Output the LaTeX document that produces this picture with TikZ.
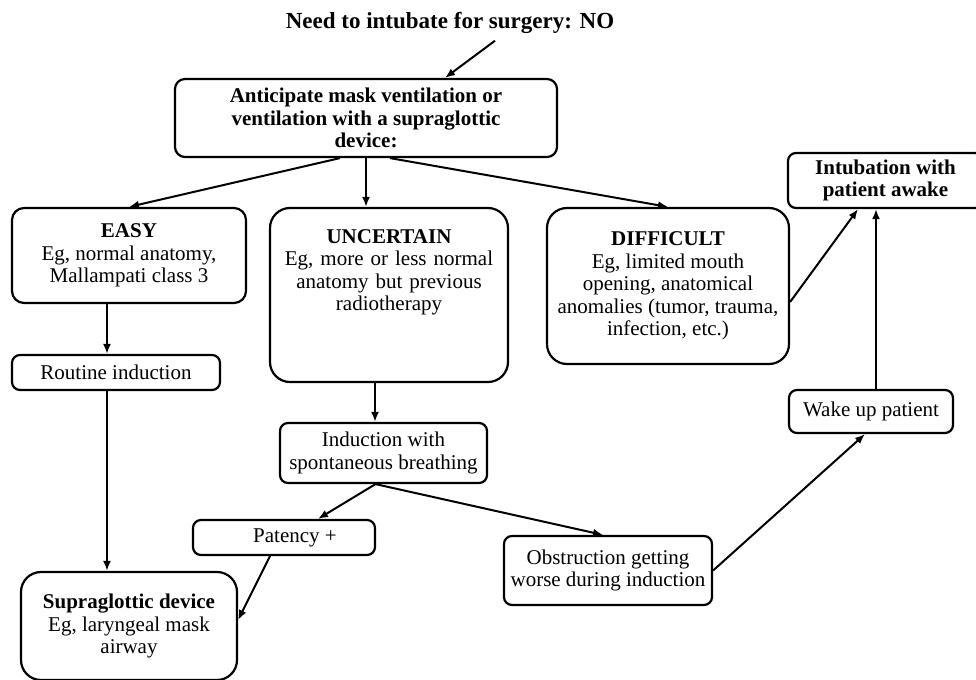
\documentclass[tikz,border=0pt]{standalone}
\usepackage{fontspec}
\setmainfont{Liberation Serif}
\usetikzlibrary{arrows.meta,calc,positioning}
\tikzset{
  box/.style={draw, line width=1.1pt, rounded corners=4pt, align=center, inner sep=0pt,
    font=\fontsize{10.5}{11.3}\selectfont},
  bigbox/.style={box, rounded corners=10pt},
  link/.style={-{Latex[length=5pt,width=4pt]}, line width=1pt},
}

\begin{document}
\begin{tikzpicture}[x=0.5pt,y=-0.5pt]
\clip (0,0) rectangle (976,680);
% top of the chart
\node[font=\fontsize{11.5}{13}\bfseries\selectfont] (need) at (450,23) {Need to intubate for surgery: NO};
\node[box, rounded corners=5pt, minimum width=191pt, minimum height=39pt] (ant) at (366,118)
  {\textbf{Anticipate mask ventilation or}\\\textbf{ventilation with a supraglottic}\\\textbf{device:}};

% the three cases
\node[box, rounded corners=6pt, minimum width=117pt, minimum height=47.5pt] (easy) at (129,255.5)
  {\textbf{EASY}\\Eg, normal anatomy,\\Mallampati class 3};
\node[bigbox, text width=119pt, text height=17.5pt, text depth=69.5pt] (unc) at (389,295)
  {\textbf{UNCERTAIN}\\Eg, more or less normal\\anatomy but previous\\radiotherapy};
\node[bigbox, minimum width=121pt, minimum height=78pt] (diff) at (668,286)
  {\textbf{DIFFICULT}\\Eg, limited mouth\\opening, anatomical\\anomalies (tumor, trauma,\\infection, etc.)};
\node[box, minimum width=97.5pt, minimum height=27.5pt] (intub) at (885.5,180.5)
  {\textbf{Intubation with}\\\textbf{patient awake}};

% what follows
\node[box, minimum width=104pt, minimum height=17.5pt] (routine) at (116,372.5) {Routine induction};
\node[box, minimum width=103.5pt, minimum height=30pt] (induc) at (383.5,453)
  {Induction with\\spontaneous breathing};
\node[box, minimum width=91pt, minimum height=17.5pt] (pat) at (284,537.5) {\hspace*{11pt}Patency +};
\node[box, minimum width=104pt, minimum height=34.5pt] (obstr) at (608,570.5)
  {Obstruction getting\\worse during induction};
\node[box, minimum width=82pt, minimum height=21.5pt] (wake) at (871,411.5) {Wake up patient};
\node[bigbox, minimum width=108pt, minimum height=54pt] (supra) at (129,626)
  {\textbf{Supraglottic device}\\Eg, laryngeal mask\\airway};

% arrows
\draw[link] ($(need.south)+(45,0)$) -- ($(ant.north)+(79,0)$);
\draw[link] ($(ant.south)+(-26,0)$) -- (easy.north);
\draw[link] (ant.south) -- (ant.south |- unc.north);
\draw[link] ($(ant.south)+(24,0)$) -- (diff.north);
\coordinate (ea) at ($(easy.south)+(-22,0)$);
\draw[link] (ea) -- (ea |- routine.north);
\draw[link] (ea |- routine.south) -- (ea |- supra.north);
\coordinate (ui) at ($(unc.south)+(-14,0)$);
\draw[link] (ui) -- (ui |- induc.north);
\coordinate (ib) at ($(induc.south)+(-8,0)$);
\draw[link] (ib) -- ($(pat.north)+(34,0)$);
\draw[link] (ib) -- ($(obstr.north)+(-5,0)$);
\draw[link] ($(pat.south)+(-14,0)$) -- ($(supra.east)+(0,-6)$);
\draw[link] (obstr.east) -- ($(wake.south)+(-6,0)$);
\draw[link] ($(diff.east)+(0,16)$) -- ($(intub.south)+(-27.5,0)$);
\coordinate (wi) at ($(wake.north)+(5,0)$);
\draw[link] (wi) -- (wi |- intub.south);
\end{tikzpicture}
\end{document}
